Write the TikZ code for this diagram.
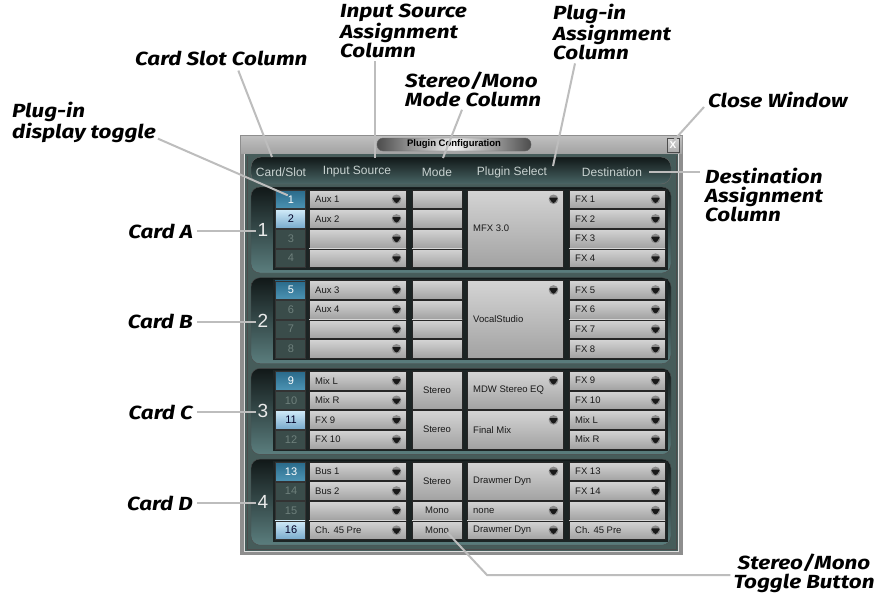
\documentclass[tikz,border=0pt]{standalone}
\usepackage{fontspec}
\setmainfont{Liberation Sans}
\newfontfamily\callfont{Fira Sans}[FakeStretch=1.18]
\usetikzlibrary{calc}
\definecolor{winbg}{HTML}{465C5A}
\definecolor{frameg}{HTML}{8E8E8E}
\definecolor{paneldk}{HTML}{1C2424}
\definecolor{paneltop}{HTML}{111818}
\definecolor{panelbot}{HTML}{5B7E7E}
\definecolor{slotAt}{HTML}{2A6A8A}
\definecolor{slotAb}{HTML}{4C93B3}
\definecolor{slotLt}{HTML}{D0EAF8}
\definecolor{slotLb}{HTML}{78AACC}
\definecolor{slotD}{HTML}{3A4C4A}
\definecolor{slotDtxt}{HTML}{6E807C}
\definecolor{btntop}{HTML}{D4D4D4}
\definecolor{btnbot}{HTML}{A2A2A2}
\definecolor{hdrtxt}{HTML}{C8D2D0}
\definecolor{leadc}{HTML}{BDBDBD}
\definecolor{arrowhi}{HTML}{8A8A8A}
\tikzset{
  leader/.style={draw=leadc, line width=2pt},
  calllab/.style={font=\callfont\bfseries\itshape\fontsize{19}{18.5}\selectfont, text=black, inner sep=0pt, align=left},
  combo/.style={draw=black!85, line width=0.6pt, top color=btntop, bottom color=btnbot},
  uitext/.style={font=\fontsize{9.5}{10}\selectfont, text=black!90, inner sep=0pt},
  hdrlab/.style={font=\fontsize{12}{13}\selectfont, text=hdrtxt, inner sep=0pt},
  slota/.style={draw=black!80, top color=slotAt, bottom color=slotAb},
  slotl/.style={draw=black!80, top color=slotLt, bottom color=slotLb},
  slotd/.style={draw=black!80, fill=slotD},
  slottxta/.style={font=\fontsize{11}{12}\selectfont, text=white, inner sep=0pt},
  slottxtl/.style={font=\fontsize{11}{12}\selectfont, text=black!85!blue, inner sep=0pt},
  slottxtd/.style={font=\fontsize{11}{12}\selectfont, text=slotDtxt, inner sep=0pt},
  panel/.style={rounded corners=9pt, draw=black!70, top color=paneltop, bottom color=panelbot},
  bignum/.style={font=\fontsize{19}{20}\selectfont, text=white!92!black, inner sep=0pt},
}
\newcommand\uiarrow[2]{%
  \fill[arrowhi] (#1,#2) circle (4.8);
  \fill[black!90, rounded corners=1pt] (#1-4.6,#2-1.8) -- (#1+4.6,#2-1.8) -- (#1+1.2,#2+3.6) -- (#1-1.2,#2+3.6) -- cycle;
}
\newcommand\uicell[9]{%
  \pgfmathsetmacro\ya{190+90.7*#3+19.6*#4}%
  \pgfmathsetmacro\yb{190+90.7*#3+19.6*#5+18.6}%
  \pgfmathsetmacro\ym{(\ya+\yb)/2}%
  \pgfmathsetmacro\yr{\ya+9.3}%
  \pgfmathsetmacro\xa{#2-9.5}%
  \pgfmathsetmacro\xm{(#1+#2)/2}%
  \path[combo] (#1,\ya) rectangle (#2,\yb);
  \if c#7\node[uitext] (#9) at (\xm,\ym) {#6};\else\node[uitext,anchor=west] (#9) at (#1+6,\ym) {#6};\fi
  \ifnum#8=1 \uiarrow{\xa}{\yr}\fi
}
\newcommand\uislot[4]{%
  \pgfmathsetmacro\ya{190+90.7*#1+19.6*#2}%
  \pgfmathsetmacro\yb{\ya+18.6}%
  \pgfmathsetmacro\ym{(\ya+\yb)/2}%
  \path[slot#4] (275,\ya) rectangle (305,\yb);
  \node[slottxt#4] (slot#3) at (291,\ym) {#3};
}
\begin{document}
\begin{tikzpicture}[x=1pt,y=-1pt]
\useasboundingbox (0,0) rectangle (877,597);
\fill[white] (0,0) rectangle (877,597);
% window frame
\fill[frameg] (240,135) rectangle (683,555);
\shade[top color=gray!50, bottom color=gray!72] (241,136) rectangle (682,153);
\fill[winbg] (244,154) rectangle (679,551);
\draw[gray!25, line width=1pt] (244.5,154) -- (244.5,551.5) -- (678.5,551.5) -- (678.5,154);
\draw[black!70, line width=0.8pt] (247,155.5) -- (247,549) -- (676,549) -- (676,155.5);
% title
\path[rounded corners=6pt, draw=black!60, left color=gray!60!black, right color=gray!60!black, middle color=gray!12] (377,138) rectangle (531,151);
\node[font=\bfseries\fontsize{9.5}{10}\selectfont, inner sep=0pt] (title) at (454,144.5) {Plugin Configuration};
\path[draw=black!70, top color=gray!35, bottom color=gray!65] (667,138) rectangle (679,152);
\node[font=\bfseries\fontsize{10}{10}\selectfont, text=white, inner sep=0pt] (closebtn) at (673,145) {X};
% header band
\path[rounded corners=10pt, draw=black!60, top color=paneltop, bottom color=panelbot!80!black] (251,157) rectangle (671,184);
\node[hdrlab] (hdrslot) at (281,172) {Card/Slot};
\node[hdrlab] (hdrinput) at (357,172) {Input Source};
\node[hdrlab] (hdrmode) at (437,172) {Mode};
\node[hdrlab] (hdrplug) at (512,172) {Plugin Select};
\node[hdrlab] (hdrdest) at (612,172) {Destination};
% card panels
\foreach \k/\c in {0/A,1/B,2/C,3/D}{
  \pgfmathsetmacro\T{187+90.7*\k}
  \pgfmathtruncatemacro\n{\k+1}
  \path[panel] (251,\T) rectangle (671,\T+86);
  \fill[paneldk] (273,\T+1.5) rectangle (668,\T+82.5);
  \node[bignum] (num\k) at (263,\T+43) {\n};
  \node[calllab, anchor=east] (card\c) at (193,\T+44) {Card \c};
  \draw[leader] ($(card\c.east)+(4,0)$) -- ($(card\c.east -| num\k.west)+(-2,0)$);
}
% slots
\uislot{0}{0}{1}{a}\uislot{0}{1}{2}{l}\uislot{0}{2}{3}{d}\uislot{0}{3}{4}{d}
\uislot{1}{0}{5}{a}\uislot{1}{1}{6}{d}\uislot{1}{2}{7}{d}\uislot{1}{3}{8}{d}
\uislot{2}{0}{9}{a}\uislot{2}{1}{10}{d}\uislot{2}{2}{11}{l}\uislot{2}{3}{12}{d}
\uislot{3}{0}{13}{a}\uislot{3}{1}{14}{d}\uislot{3}{2}{15}{d}\uislot{3}{3}{16}{l}
% card 1
\uicell{309}{406}{0}{0}{0}{Aux 1}{l}{1}{in00}
\uicell{309}{406}{0}{1}{1}{Aux 2}{l}{1}{in01}
\uicell{309}{406}{0}{2}{2}{}{l}{1}{in02}
\uicell{309}{406}{0}{3}{3}{}{l}{1}{in03}
\uicell{412}{462}{0}{0}{0}{}{c}{0}{mode00}
\uicell{412}{462}{0}{1}{1}{}{c}{0}{mode01}
\uicell{412}{462}{0}{2}{2}{}{c}{0}{mode02}
\uicell{412}{462}{0}{3}{3}{}{c}{0}{mode03}
\uicell{467}{563}{0}{0}{3}{MFX 3.0}{l}{1}{plug00}
\uicell{569}{665}{0}{0}{0}{FX 1}{l}{1}{dest00}
\uicell{569}{665}{0}{1}{1}{FX 2}{l}{1}{dest01}
\uicell{569}{665}{0}{2}{2}{FX 3}{l}{1}{dest02}
\uicell{569}{665}{0}{3}{3}{FX 4}{l}{1}{dest03}
% card 2
\uicell{309}{406}{1}{0}{0}{Aux 3}{l}{1}{in10}
\uicell{309}{406}{1}{1}{1}{Aux 4}{l}{1}{in11}
\uicell{309}{406}{1}{2}{2}{}{l}{1}{in12}
\uicell{309}{406}{1}{3}{3}{}{l}{1}{in13}
\uicell{412}{462}{1}{0}{0}{}{c}{0}{mode10}
\uicell{412}{462}{1}{1}{1}{}{c}{0}{mode11}
\uicell{412}{462}{1}{2}{2}{}{c}{0}{mode12}
\uicell{412}{462}{1}{3}{3}{}{c}{0}{mode13}
\uicell{467}{563}{1}{0}{3}{VocalStudio}{l}{1}{plug10}
\uicell{569}{665}{1}{0}{0}{FX 5}{l}{1}{dest10}
\uicell{569}{665}{1}{1}{1}{FX 6}{l}{1}{dest11}
\uicell{569}{665}{1}{2}{2}{FX 7}{l}{1}{dest12}
\uicell{569}{665}{1}{3}{3}{FX 8}{l}{1}{dest13}
% card 3
\uicell{309}{406}{2}{0}{0}{Mix L}{l}{1}{in20}
\uicell{309}{406}{2}{1}{1}{Mix R}{l}{1}{in21}
\uicell{309}{406}{2}{2}{2}{FX 9}{l}{1}{in22}
\uicell{309}{406}{2}{3}{3}{FX 10}{l}{1}{in23}
\uicell{412}{462}{2}{0}{1}{Stereo}{c}{0}{mode20}
\uicell{412}{462}{2}{2}{3}{Stereo}{c}{0}{mode22}
\uicell{467}{563}{2}{0}{1}{MDW Stereo EQ}{l}{1}{plug20}
\uicell{467}{563}{2}{2}{3}{Final Mix}{l}{1}{plug22}
\uicell{569}{665}{2}{0}{0}{FX 9}{l}{1}{dest20}
\uicell{569}{665}{2}{1}{1}{FX 10}{l}{1}{dest21}
\uicell{569}{665}{2}{2}{2}{Mix L}{l}{1}{dest22}
\uicell{569}{665}{2}{3}{3}{Mix R}{l}{1}{dest23}
% card 4
\uicell{309}{406}{3}{0}{0}{Bus 1}{l}{1}{in30}
\uicell{309}{406}{3}{1}{1}{Bus 2}{l}{1}{in31}
\uicell{309}{406}{3}{2}{2}{}{l}{1}{in32}
\uicell{309}{406}{3}{3}{3}{Ch. 45 Pre}{l}{1}{in33}
\uicell{412}{462}{3}{0}{1}{Stereo}{c}{0}{mode30}
\uicell{412}{462}{3}{2}{2}{Mono}{c}{0}{mode32}
\uicell{412}{462}{3}{3}{3}{Mono}{c}{0}{mode33}
\uicell{467}{563}{3}{0}{1}{Drawmer Dyn}{l}{1}{plug30}
\uicell{467}{563}{3}{2}{2}{none}{l}{1}{plug32}
\uicell{467}{563}{3}{3}{3}{Drawmer Dyn}{l}{1}{plug33}
\uicell{569}{665}{3}{0}{0}{FX 13}{l}{1}{dest30}
\uicell{569}{665}{3}{1}{1}{FX 14}{l}{1}{dest31}
\uicell{569}{665}{3}{2}{2}{}{l}{1}{dest32}
\uicell{569}{665}{3}{3}{3}{Ch. 45 Pre}{l}{1}{dest33}
% callout labels
\node[calllab, anchor=west] (cardslot) at (135,58) {Card Slot Column};
\node[calllab, anchor=north west] (inputsrc) at (340,4) {Input Source\\Assignment\\Column};
\node[calllab, anchor=north west] (stereomode) at (405,72) {Stereo/Mono\\Mode Column};
\node[calllab, anchor=north west] (pluginassign) at (553,4) {Plug-in\\Assignment\\Column};
\node[calllab, anchor=west] (closewin) at (708,100) {Close Window};
\node[calllab, anchor=north west] (displaytoggle) at (12,102) {Plug-in\\display toggle};
\node[calllab, anchor=north west] (destlab) at (705,168) {Destination\\Assignment\\Column};
\node[calllab, anchor=north, align=center] (togglelab) at (804,554) {Stereo/Mono\\Toggle Button};
% leaders
\coordinate (hdrslotpt) at (272,157);
\coordinate (hdrinputpt) at (375,158);
\coordinate (hdrmodept) at (443,158);
\coordinate (hdrplugpt) at (553,166);
\coordinate (bend) at (487,575);
\draw[leader] ($(cardslot.south)+(17,5)$) -- (hdrslotpt);
\draw[leader] ($(inputsrc.south west)+(35,3)$) -- (hdrinputpt);
\draw[leader] ($(stereomode.south west)+(57,3)$) -- (hdrmodept);
\draw[leader] ($(pluginassign.south west)+(22,3)$) -- (hdrplugpt);
\draw[leader] ($(closewin.west)+(-4,7)$) -- (closebtn.north);
\draw[leader] ($(displaytoggle.south east)+(2,-4)$) -- (slot1.north west);
\draw[leader] ($(hdrdest.east)+(7,0)$) -- ($(hdrdest.east -| destlab.west)+(-5,0)$);
\draw[leader] ($(mode33.east)+(-2,2)$) -- (bend) -- ($(bend -| togglelab.west)+(-3,0)$);
\end{tikzpicture}
\end{document}
